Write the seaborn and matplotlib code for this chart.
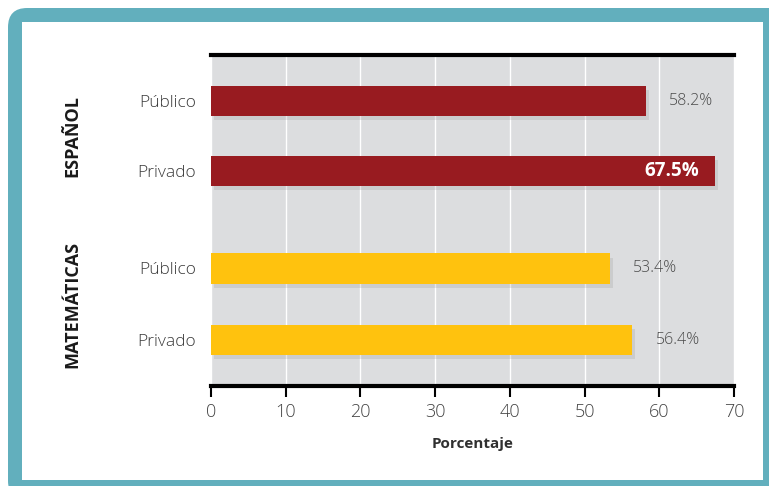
import matplotlib
matplotlib.use("Agg")
import matplotlib.pyplot as plt
import seaborn as sns
import pandas as pd
from matplotlib.patches import FancyBboxPatch, Rectangle
import matplotlib.patheffects as pe

# datos
materias = ["ESPAÑOL", "ESPAÑOL", "MATEMÁTICAS", "MATEMÁTICAS"]
escuelas = ["Público", "Privado", "Público", "Privado"]
porcentajes = [58.2, 67.5, 53.4, 56.4]
etiquetas = ["58.2%", "67.5%", "53.4%", "56.4%"]
filas = [0, 1, 2.39, 3.41]  # posición de cada fila (hueco entre materias)
colores = {"ESPAÑOL": "#981B20", "MATEMÁTICAS": "#FFC20E"}

df = pd.DataFrame({"materia": materias, "escuela": escuelas,
                   "pct": porcentajes, "fila": filas})

sns.set_theme(style="white")
plt.rcParams["font.family"] = ["Open Sans", "DejaVu Sans"]
plt.rcParams["font.stretch"] = "condensed"

W, H = 769, 486
fig = plt.figure(figsize=(W / 100, H / 100), dpi=100)

# marco turquesa
fig.patches.append(FancyBboxPatch((8 / W, 1 - 500 / H), 780 / W, 492 / H,
                                  boxstyle="round,pad=0,rounding_size=0.025",
                                  mutation_aspect=W / H,
                                  transform=fig.transFigure, fc="#62AFBD", ec="none", zorder=-10))
fig.patches.append(Rectangle((22 / W, 1 - 480 / H), 741 / W, 458 / H,
                             transform=fig.transFigure, fc="white", ec="none", zorder=-9))

ax = fig.add_axes([211 / W, 1 - 386 / H, 523 / W, 331 / H])
ax.set_facecolor("#DCDDDF")

sns.barplot(data=df, x="pct", y="fila", hue="materia", palette=colores,
            orient="h", native_scale=True, width=0.43, legend=False,
            saturation=1, linewidth=0, ax=ax, zorder=3)
for bar in ax.patches:
    bar.set_path_effects([pe.SimplePatchShadow(offset=(2, -3), shadow_rgbFace="#888888", alpha=0.2),
                          pe.Normal()])

ax.set_xlim(0, 70)
ax.set_ylim(filas[-1] + 0.657, filas[0] - 0.657)
ax.grid(axis="x", color="white", lw=1.0, zorder=1)
ax.grid(axis="y", visible=False)
ax.set_axisbelow(True)

ligera = dict(family=["Open Sans", "DejaVu Sans"], stretch="normal", weight="light")

ax.set_yticks(filas)
ax.set_yticklabels(escuelas, fontsize=12.5, color="#3a3a3a", **ligera)
ax.tick_params(axis="y", length=0, pad=11)
ax.tick_params(axis="x", direction="out", length=8, width=1.5, color="black",
               labelcolor="#444444", pad=4, bottom=True)
ax.set_xticks(range(0, 71, 10))
ax.set_xticklabels([str(v) for v in range(0, 71, 10)], fontsize=13, **ligera)

for s in ["left", "right"]:
    ax.spines[s].set_visible(False)
for s in ["top", "bottom"]:
    ax.spines[s].set_visible(True)
    ax.spines[s].set_color("black")
    ax.spines[s].set_linewidth(3)

ax.set_xlabel("Porcentaje", fontsize=11, fontweight="bold", color="#303030", labelpad=12)
ax.set_ylabel("")

for v, y, t in zip(porcentajes, filas, etiquetas):
    if v == max(porcentajes):
        ax.text(v - 2.2, y, t, ha="right", va="center", color="white",
                fontsize=13.5, fontweight="bold")
    else:
        ax.text(v + 3.1, y, t, ha="left", va="center", color="#4a4a4a",
                fontsize=11.5, **ligera)

# nombres de materia
for m in ["ESPAÑOL", "MATEMÁTICAS"]:
    ys = [f for f, mm in zip(filas, materias) if mm == m]
    yc = sum(ys) / len(ys)
    ax.text(-0.265, yc, m, transform=ax.get_yaxis_transform(), rotation=90,
            ha="center", va="center", fontsize=13, fontweight="bold", color="#1a1a1a")

fig.savefig("out.png", dpi=100)
